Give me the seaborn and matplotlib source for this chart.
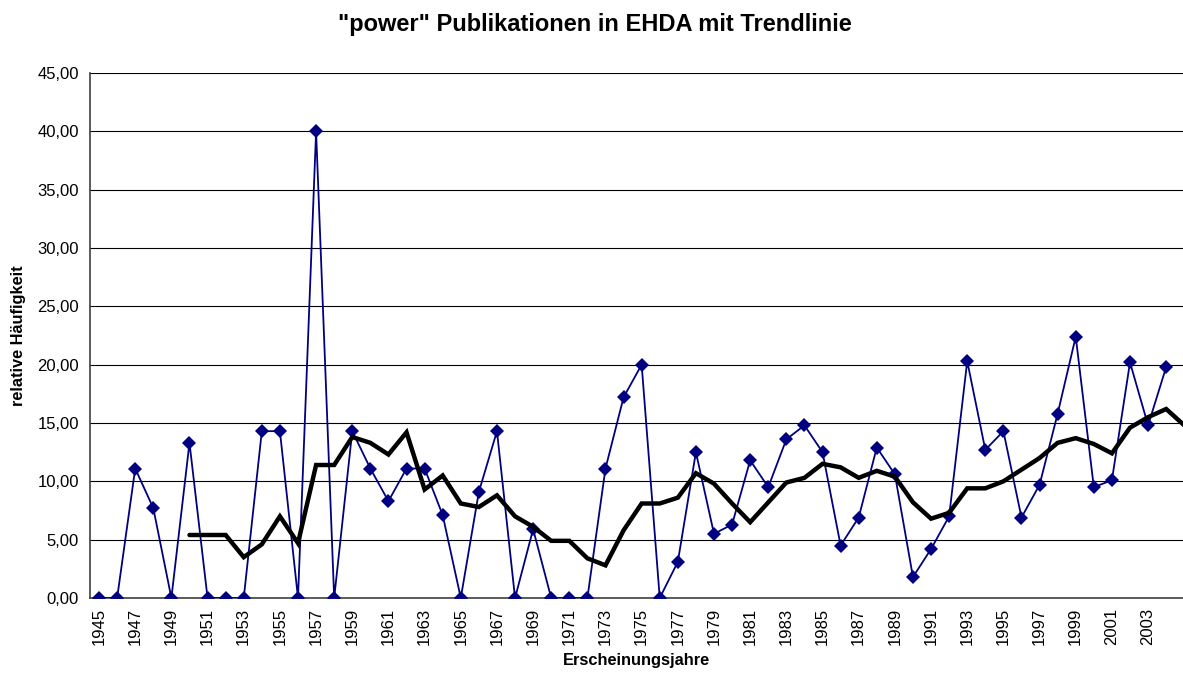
import numpy as np
import pandas as pd
import matplotlib.pyplot as plt
import seaborn as sns
from matplotlib.ticker import FuncFormatter, MultipleLocator

sns.set_style("white")
plt.rcParams["font.family"] = ["Liberation Sans", "DejaVu Sans"]
plt.rcParams["text.color"] = "black"
plt.rcParams["axes.labelcolor"] = "black"
plt.rcParams["xtick.color"] = "black"
plt.rcParams["ytick.color"] = "black"

years = list(range(1945, 2006))

# relative Häufigkeit (blue), no value for 2005
power = [0.0, 0.0, 11.1, 7.7, 0.0, 13.3, 0.0, 0.0, 0.0, 14.3,
         14.3, 0.0, 40.0, 0.0, 14.3, 11.1, 8.3, 11.1, 11.1, 7.1,
         0.0, 9.1, 14.3, 0.0, 5.9, 0.0, 0.0, 0.0, 11.1, 17.2,
         20.0, 0.0, 3.1, 12.5, 5.5, 6.3, 11.8, 9.5, 13.6, 14.8,
         12.5, 4.5, 6.9, 12.9, 10.6, 1.8, 4.2, 7.0, 20.3, 12.7,
         14.3, 6.9, 9.7, 15.8, 22.4, 9.5, 10.1, 20.2, 14.8, 19.8,
         np.nan]

# Trendlinie, starts 1950
trend = [np.nan, np.nan, np.nan, np.nan, np.nan, 5.4, 5.4, 5.4, 3.5, 4.6,
         7.0, 4.7, 11.4, 11.4, 13.8, 13.3, 12.3, 14.2, 9.3, 10.5,
         8.1, 7.8, 8.8, 7.0, 6.1, 4.9, 4.9, 3.4, 2.8, 5.8,
         8.1, 8.1, 8.6, 10.7, 9.8, 8.1, 6.5, 8.2, 9.9, 10.3,
         11.5, 11.2, 10.3, 10.9, 10.4, 8.2, 6.8, 7.3, 9.4, 9.4,
         10.0, 11.0, 12.0, 13.3, 13.7, 13.2, 12.4, 14.6, 15.5, 16.2,
         14.8]

df = pd.DataFrame({"Jahr": years, "power": power, "trend": trend})

fig = plt.figure(figsize=(11.83, 6.74), dpi=100)
ax = fig.add_axes([90 / 1183, 76 / 674, 1 - 90 / 1183, 525 / 674])

sns.lineplot(data=df, x="Jahr", y="power", ax=ax, color="#000080", lw=1.3,
             marker="D", markersize=7, markeredgewidth=0, zorder=3)
sns.lineplot(data=df, x="Jahr", y="trend", ax=ax, color="black", lw=3.2,
             solid_joinstyle="miter", zorder=4)

ax.set_ylim(0, 45)
ax.set_xlim(1944.5, 2004.93)
ax.yaxis.set_major_locator(MultipleLocator(5))
ax.yaxis.set_major_formatter(FuncFormatter(lambda v, p: f"{v:.2f}".replace(".", ",")))
ax.grid(axis="y", color="black", lw=0.8)
ax.set_axisbelow(True)

ax.set_xticks(years[:-1:2])
ax.set_xticklabels([str(y) for y in years[:-1:2]], rotation=90)
ax.set_xticks(np.arange(1944.5, 2005.5, 1), minor=True)
ax.tick_params(axis="x", which="major", length=0, labelsize=12, pad=7)
ax.tick_params(axis="x", which="minor", length=5, width=1, color="#404040", direction="out")
ax.tick_params(axis="y", length=5, width=1, color="#404040", direction="out", labelsize=12, pad=3)

for s in ["top", "right"]:
    ax.spines[s].set_visible(False)
for s in ["left", "bottom"]:
    ax.spines[s].set_color("#404040")
    ax.spines[s].set_linewidth(1.2)

ax.set_xlabel("Erscheinungsjahre", fontsize=11.8, fontweight="bold", labelpad=6)
ax.set_ylabel("relative Häufigkeit", fontsize=11.8, fontweight="bold", labelpad=8)
fig.text(595 / 1183, 1 - 25 / 674, '"power" Publikationen in EHDA mit Trendlinie',
         ha="center", va="center", fontsize=17, fontweight="bold")

plt.savefig("out.png", dpi=100)
plt.close()
